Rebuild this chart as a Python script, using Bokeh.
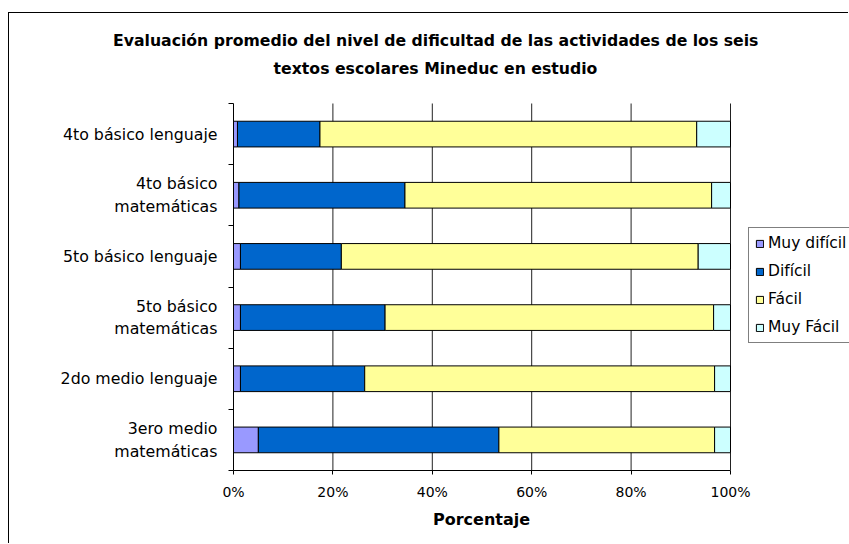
from bokeh.plotting import figure
from bokeh.models import (ColumnDataSource, FixedTicker, NumeralTickFormatter,
                          Legend, LegendItem, Title, Label, Range1d)
from bokeh.embed import file_html
from bokeh.resources import INLINE

# ---- data ----
categories = ["4to básico lenguaje", "4to básico\nmatemáticas", "5to básico lenguaje",
              "5to básico\nmatemáticas", "2do medio lenguaje", "3ero medio\nmatemáticas"]
series = ["Muy difícil", "Difícil", "Fácil", "Muy Fácil"]
muy_dificil = [0.8, 1.1, 1.4, 1.4, 1.4, 5.0]
dificil = [16.6, 33.4, 20.3, 29.1, 25.0, 48.4]
facil = [75.8, 61.7, 71.8, 66.1, 70.4, 43.4]
muy_facil = [6.8, 3.8, 6.5, 3.4, 3.2, 3.2]
x_ticks = [0, 0.2, 0.4, 0.6, 0.8, 1.0]
title_lines = ["Evaluación promedio del nivel de dificultad de las actividades de los seis",
               "textos escolares Mineduc en estudio"]
x_label = "Porcentaje"

colors = ["#9999FF", "#0066CC", "#FFFF99", "#CCFFFF"]
FONT = "DejaVu Sans"

n = len(categories)
ypos = [n - i - 0.5 for i in range(n)]
keys = ["s0", "s1", "s2", "s3"]
data = {"y": ypos}
for k, vals in zip(keys, [muy_dificil, dificil, facil, muy_facil]):
    data[k] = [v / 100.0 for v in vals]
src = ColumnDataSource(data)

# layout: the plotting frame extends to the right edge and up to the title so
# that the legend and the second title line are not clipped
W, H = 840, 531
BL, BT, BB = 224, 39, 74
axis_px_x = 497                      # pixel length of 0..100%
axis_px_y = 367                      # pixel height of the category area
frame_w = W - BL
frame_h = H - BT - BB
x_end = frame_w / axis_px_x
y_end = n * frame_h / axis_px_y

p = figure(width=W, height=H, output_backend="svg", toolbar_location=None,
           x_range=Range1d(0, x_end), y_range=Range1d(0, y_end),
           min_border_left=BL, min_border_right=0, min_border_top=BT, min_border_bottom=BB)
p.margin = (12, 0, 0, 8)
p.styles = {"border-left": "1px solid black", "border-top": "1px solid black"}
p.outline_line_color = None
p.background_fill_color = "white"
p.border_fill_color = "white"

# vertical grid lines, limited to the category area
grid_x = x_ticks[1:]
p.segment(x0=grid_x, y0=[0] * len(grid_x), x1=grid_x, y1=[n] * len(grid_x),
          line_color="#222222", line_width=1)

rs = p.hbar_stack(keys, y="y", height=0.42, color=colors, source=src,
                  line_color="black", line_width=1)

# axes
p.xaxis.bounds = (0, 1)
p.xaxis.ticker = FixedTicker(ticks=x_ticks)
p.xaxis.formatter = NumeralTickFormatter(format="0%")
p.xaxis.major_label_text_font = FONT
p.xaxis.major_label_text_font_size = "14px"
p.xaxis.major_label_text_color = "black"
p.xaxis.major_label_standoff = 9
p.xaxis.major_tick_out = 4
p.xaxis.major_tick_in = 0
p.xaxis.minor_tick_out = 0
p.xaxis.axis_line_color = "black"
p.xaxis.major_tick_line_color = "black"

p.yaxis.bounds = (0, n)
p.yaxis.ticker = FixedTicker(ticks=ypos, minor_ticks=list(range(n + 1)))
p.yaxis.major_label_overrides = {y: c for y, c in zip(ypos, categories)}
p.yaxis.major_label_text_font = FONT
p.yaxis.major_label_text_font_size = "15.8px"
p.yaxis.major_label_text_color = "black"
p.yaxis.major_label_standoff = 11
p.yaxis.major_tick_out = 0
p.yaxis.major_tick_in = 0
p.yaxis.minor_tick_out = 5
p.yaxis.minor_tick_in = 0
p.yaxis.minor_tick_line_color = "black"
p.yaxis.axis_line_color = "black"

p.xgrid.grid_line_color = None
p.ygrid.grid_line_color = None

# x axis title, centred under the 0-100% span
p.add_layout(Title(text=x_label, align="left", offset=199.5, standoff=10,
                   text_font=FONT, text_font_style="bold", text_font_size="16px",
                   text_color="black"), "below")

# chart title: first line above the frame, second line inside it
p.title.text = title_lines[0]
p.title.align = "left"
p.title.offset = -120.5
p.title.standoff = 5
p.title.text_font = FONT
p.title.text_font_style = "bold"
p.title.text_font_size = "15.7px"
p.title.text_color = "black"
p.add_layout(Label(x=202, y=402, x_units="screen", y_units="screen", text=title_lines[1],
                   text_align="center", text_baseline="alphabetic",
                   text_font=FONT, text_font_style="bold", text_font_size="15.7px",
                   text_color="black"))

legend = Legend(items=[LegendItem(label=s, renderers=[r]) for s, r in zip(series, rs)],
                location=(515, 127))
legend.label_text_font = FONT
legend.label_text_font_size = "15.5px"
legend.label_text_color = "black"
legend.glyph_width = 9
legend.glyph_height = 9
legend.label_standoff = 4
legend.label_height = 18
legend.spacing = 10
legend.padding = 6
legend.margin = 0
legend.border_line_color = "black"
legend.border_line_width = 1
legend.background_fill_color = "white"
legend.background_fill_alpha = 1
p.add_layout(legend, "center")

open("out.html", "w").write(file_html(p, INLINE))
